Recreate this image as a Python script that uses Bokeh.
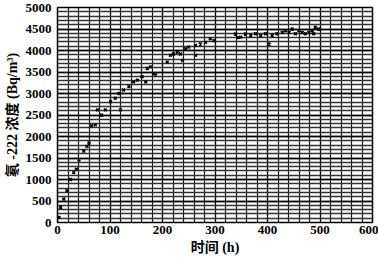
from bokeh.plotting import figure
from bokeh.models import FixedTicker, ColumnDataSource
from bokeh.embed import file_html
from bokeh.resources import INLINE

# Data (time in h, radon-222 concentration in Bq/m3)
time_h = [3, 6, 12, 18, 25, 31, 36, 41, 50, 56, 60, 65, 72, 76, 84, 91, 101, 110,
          117, 120, 126, 136, 145, 152, 161, 168, 171, 177, 183, 187, 209, 215,
          221, 228, 234, 238, 244, 250, 263, 263, 272, 282, 291, 298,
          339, 344, 349, 358, 368, 377, 387, 396, 403, 409, 418, 428, 434, 441,
          447, 453, 460, 466, 472, 479, 485, 488, 491, 497]
radon = [120, 350, 545, 740, 1000, 1160, 1240, 1430, 1660, 1770, 1850, 2250, 2270,
         2620, 2500, 2620, 2810, 2890, 3000, 2620, 3080, 3160, 3270, 3310, 3390,
         3270, 3580, 3620, 3460, 3430, 3730, 3890, 3920, 3960, 3920, 3770, 4040,
         4080, 4120, 3890, 4150, 4190, 4270, 4230,
         4385, 4300, 4310, 4385, 4350, 4390, 4350, 4390, 4150, 4350, 4390, 4420,
         4460, 4420, 4500, 4390, 4460, 4420, 4390, 4420, 4460, 4390, 4540, 4500]

x_ticks = [0, 100, 200, 300, 400, 500, 600]
y_ticks = [0, 500, 1000, 1500, 2000, 2500, 3000, 3500, 4000, 4500, 5000]
x_grid_ticks = list(range(0, 601, 20))
y_grid_ticks = list(range(0, 5001, 100))

p = figure(width=378, height=259, output_backend="svg",
           toolbar_location=None, x_range=(0, 600), y_range=(0, 5000))
p.min_border_left = 57
p.min_border_right = 6
p.min_border_top = 7
p.min_border_bottom = 37
p.background_fill_color = "white"
p.border_fill_color = "white"
p.outline_line_color = "black"
p.outline_line_width = 1.5

p.xaxis.ticker = FixedTicker(ticks=x_ticks, minor_ticks=x_grid_ticks)
p.yaxis.ticker = FixedTicker(ticks=y_ticks, minor_ticks=y_grid_ticks)

p.xgrid.grid_line_color = "black"
p.xgrid.grid_line_alpha = 0.9
p.xgrid.grid_line_width = 1.2
p.xgrid.minor_grid_line_color = "black"
p.xgrid.minor_grid_line_alpha = 0.9
p.xgrid.minor_grid_line_width = 1.2
p.ygrid.grid_line_color = "black"
p.ygrid.grid_line_alpha = 1.0
p.ygrid.grid_line_width = 1.6
p.ygrid.minor_grid_line_color = "#333333"
p.ygrid.minor_grid_line_alpha = 1.0
p.ygrid.minor_grid_line_width = 1.4

serif = "'Liberation Serif', 'Noto Sans CJK SC'"
for ax in (p.xaxis[0], p.yaxis[0]):
    ax.major_tick_out = 0
    ax.major_tick_in = 0
    ax.minor_tick_out = 0
    ax.minor_tick_in = 0
    ax.axis_line_color = None
    ax.major_label_text_font = "Liberation Serif"
    ax.major_label_text_font_style = "bold"
    ax.major_label_text_font_size = "13px"
    ax.major_label_text_color = "black"
    ax.axis_label_text_font = serif
    ax.axis_label_text_font_style = "bold"
    ax.axis_label_text_font_size = "14px"
    ax.axis_label_text_color = "black"

p.xaxis.major_label_standoff = 3
p.yaxis.major_label_standoff = 6
p.xaxis.axis_label = "时间 (h)"
p.yaxis.axis_label = "氡 -222 浓度 (Bq/m³)"
p.xaxis.axis_label_standoff = 3
p.yaxis.axis_label_standoff = 3

src = ColumnDataSource(dict(t=time_h, c=radon))
p.scatter("t", "c", source=src, marker="x", size=4, line_color="black",
          line_width=1.5)

open("out.html", "w").write(file_html(p, INLINE))
